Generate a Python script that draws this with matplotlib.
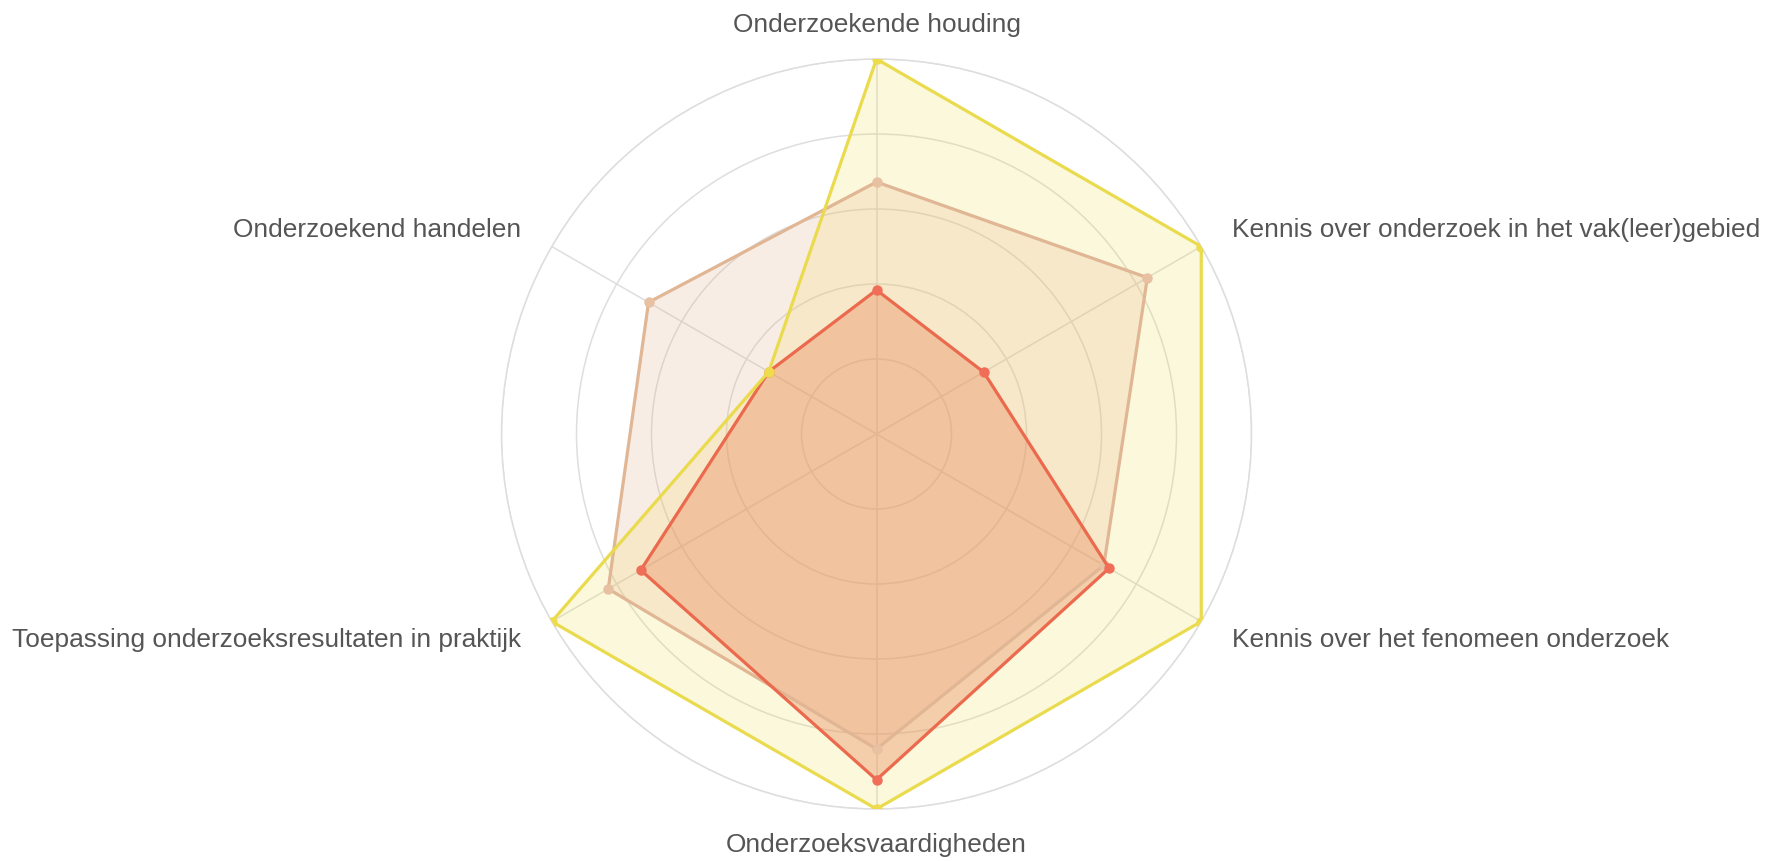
import numpy as np
import matplotlib
matplotlib.use("Agg")
import matplotlib.pyplot as plt

# axes, clockwise from the top
labels = [
    "Onderzoekende houding",
    "Kennis over onderzoek in het vak(leer)gebied",
    "Kennis over het fenomeen onderzoek",
    "Onderzoeksvaardigheden",
    "Toepassing onderzoeksresultaten in praktijk",
    "Onderzoekend handelen",
]
yellow_vals = [5.0, 5.0, 5.0, 5.0, 5.0, 1.66]
tan_vals = [3.36, 4.17, 3.5, 4.2, 4.13, 3.51]
red_vals = [1.92, 1.65, 3.58, 4.61, 3.63, 1.66]

plt.rcParams['font.family'] = ['Liberation Sans', 'DejaVu Sans']

fig = plt.figure(figsize=(17.83, 8.62), dpi=100)
ax = fig.add_axes([0.28127, 0.06032, 0.42064, 0.87007], projection='polar')
ax.set_theta_zero_location('N')
ax.set_theta_direction(-1)
ax.set_ylim(0, 5)

n = len(labels)
theta = np.arange(n) * 2 * np.pi / n

grid_col = '#dedede'
ax.set_axisbelow(True)
ax.set_xticks(theta)
ax.set_xticklabels([])
ax.set_yticks([1, 2, 3, 4, 5])
ax.set_yticklabels([])
ax.grid(True, color=grid_col, linewidth=1.1)
ax.spines['polar'].set_color(grid_col)
ax.spines['polar'].set_linewidth(1.1)
ax.tick_params(length=0)


def draw(vals, line_col, fill_col, fill_alpha, marker_col, z):
    t = np.append(theta, theta[0])
    v = np.append(vals, vals[0])
    ax.fill(t, v, color=fill_col, alpha=fill_alpha, zorder=1, linewidth=0)
    ax.plot(t, v, color=line_col, linewidth=2.3, zorder=z)
    ax.plot(theta, vals, 'o', color=marker_col, markersize=6.5, zorder=z + 0.1)


draw(yellow_vals, '#eadb4e', '#f2dd4b', 0.2, '#eedc4c', 4)
draw(tan_vals, '#e0b694', '#e3b08c', 0.22, '#e8c0a2', 2)
draw(red_vals, '#eb6a4e', '#e9885a', 0.38, '#f06e58', 3)

# category labels outside the outer ring
r_lab = 5.47
for th, lab in zip(theta, labels):
    s = np.sin(th)
    if abs(s) < 1e-6:
        ha = 'center'
    elif s > 0:
        ha = 'left'
    else:
        ha = 'right'
    ax.text(th, r_lab, lab, ha=ha, va='center', fontsize=18.9,
            color='#555555', clip_on=False)

fig.savefig('out.png', dpi=100, facecolor='white')
